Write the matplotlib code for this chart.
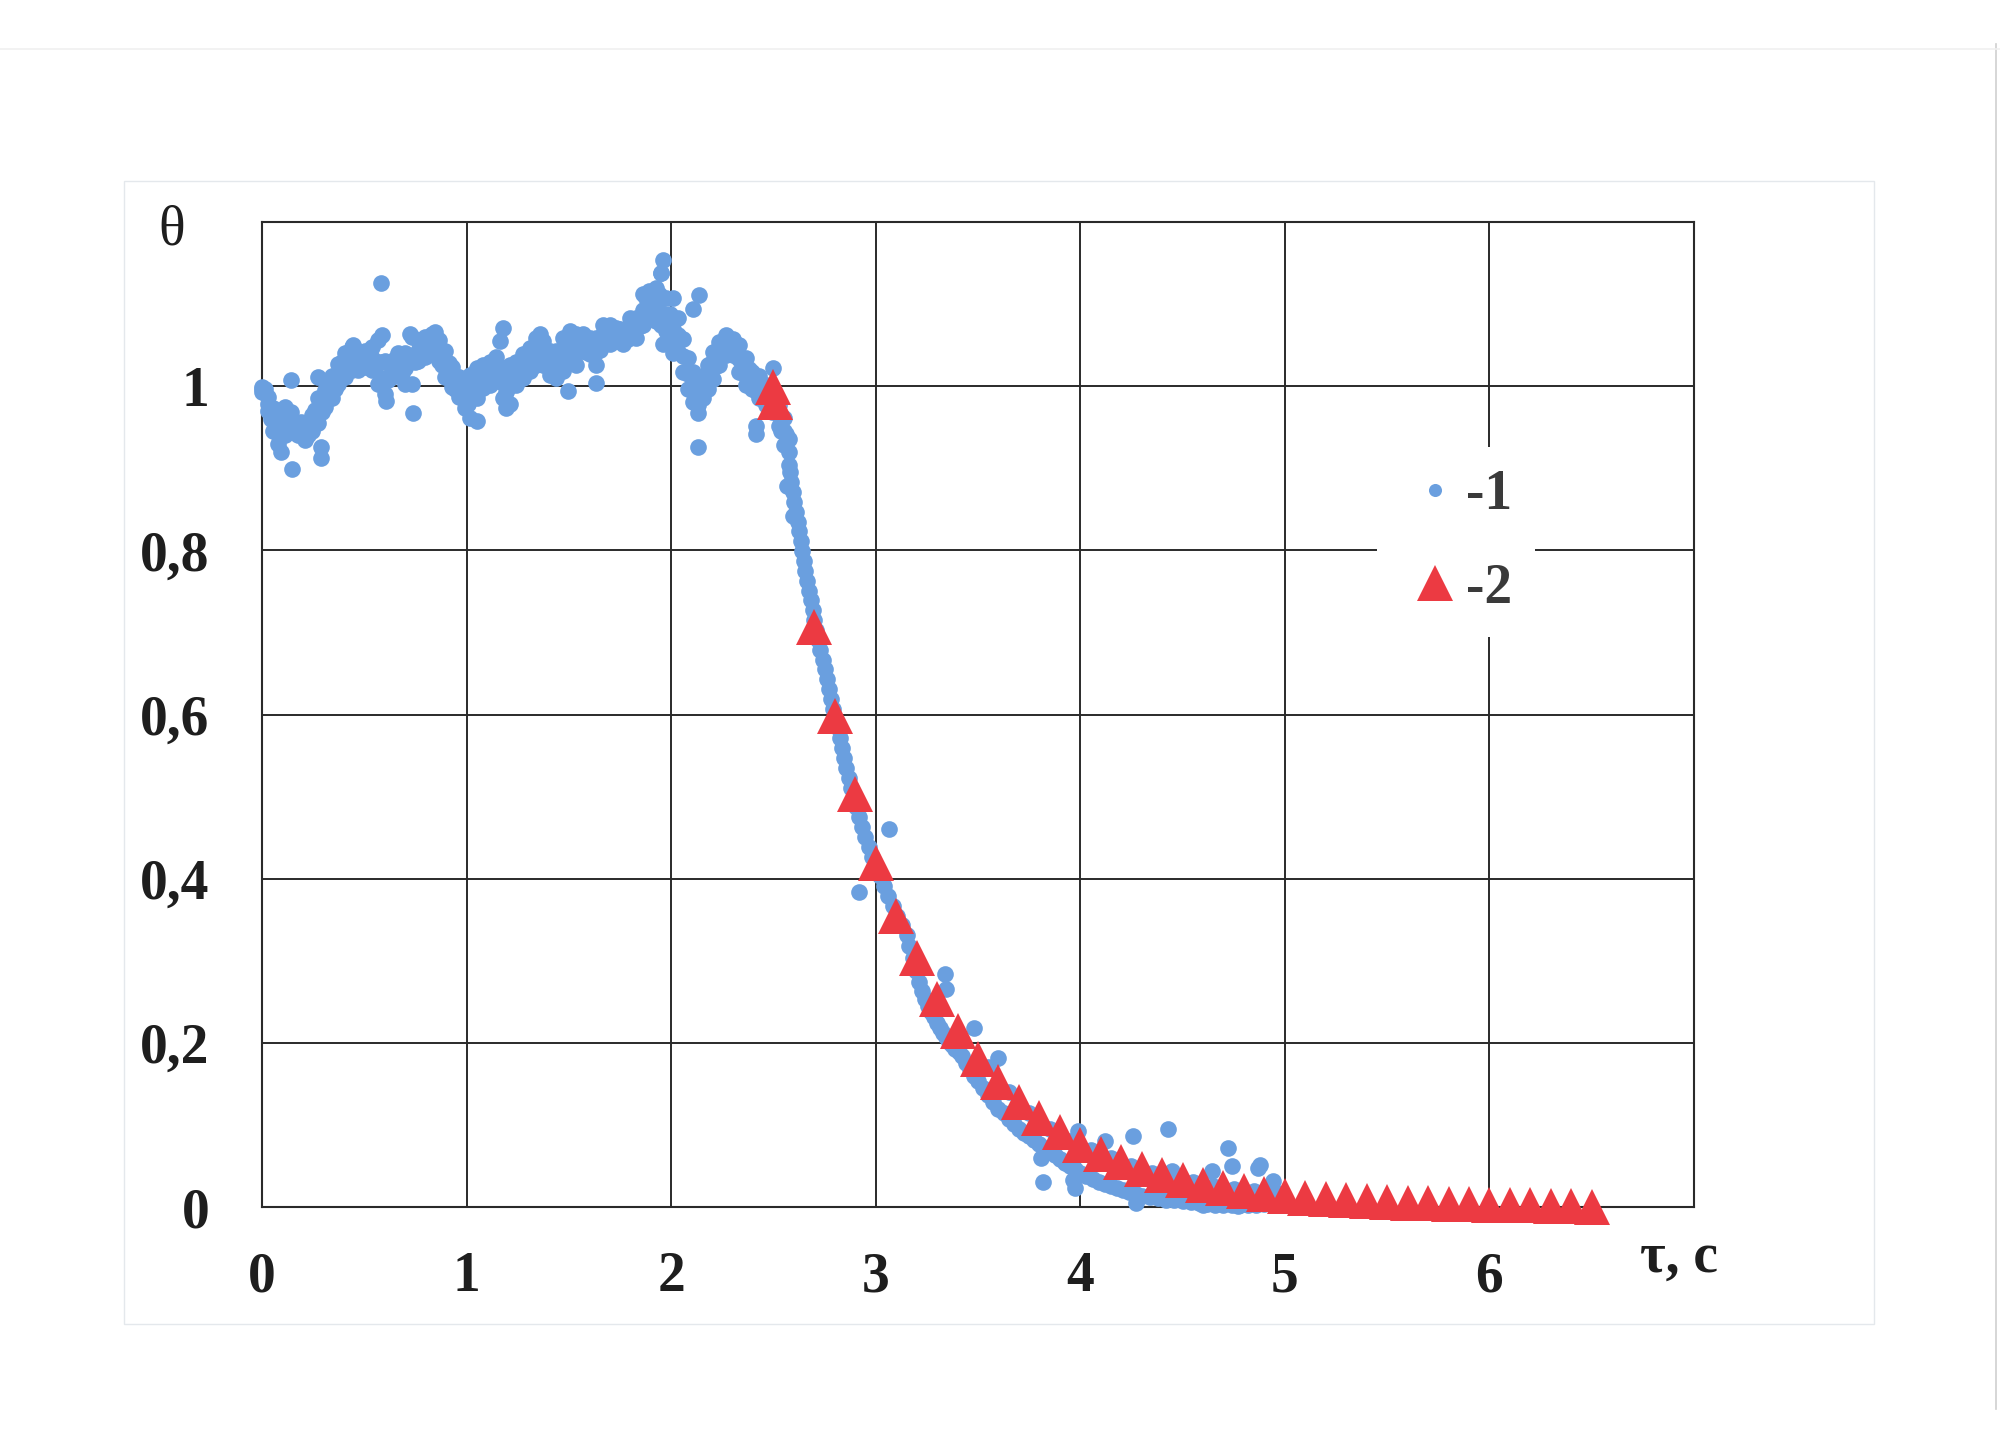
import matplotlib
matplotlib.use('Agg')
import matplotlib.pyplot as plt
from matplotlib.patches import Rectangle
from matplotlib.lines import Line2D

# --- series 1 (measured, blue dots): noisy plateau read as band edges ---
band_t = [0.000, 0.030, 0.054, 0.078, 0.111, 0.144, 0.176, 0.209, 0.242, 0.275,
          0.307, 0.340, 0.373, 0.405, 0.438, 0.470, 0.503, 0.536, 0.569, 0.601,
          0.634, 0.667, 0.699, 0.732, 0.765, 0.797, 0.830, 0.863, 0.895, 0.928,
          0.961, 0.993, 1.016, 1.049, 1.081, 1.114, 1.146, 1.179, 1.211, 1.244,
          1.276, 1.309, 1.341, 1.374, 1.407, 1.439, 1.472, 1.504, 1.537, 1.569,
          1.602, 1.634, 1.667, 1.699, 1.732, 1.764, 1.797, 1.829, 1.862, 1.894,
          1.927, 1.951, 1.976, 2.008, 2.032, 2.057, 2.081, 2.105, 2.130, 2.154,
          2.178, 2.203, 2.235, 2.267, 2.300, 2.332, 2.365, 2.397, 2.430, 2.462,
          2.494, 2.527, 2.551, 2.575]
band_hi = [0.999, 0.987, 0.974, 0.970, 0.975, 0.968, 0.955, 0.955, 0.965, 0.985,
           0.995, 1.012, 1.027, 1.040, 1.048, 1.043, 1.043, 1.048, 1.056, 1.031,
           1.031, 1.040, 1.040, 1.060, 1.056, 1.060, 1.064, 1.056, 1.043, 1.023,
           1.011, 1.003, 1.014, 1.022, 1.026, 1.030, 1.035, 1.022, 1.026, 1.030,
           1.039, 1.047, 1.059, 1.055, 1.043, 1.043, 1.059, 1.067, 1.063, 1.063,
           1.059, 1.059, 1.075, 1.075, 1.071, 1.067, 1.083, 1.083, 1.112, 1.116,
           1.120, 1.138, 1.108, 1.107, 1.083, 1.058, 1.034, 1.017, 1.009, 1.013,
           1.026, 1.042, 1.054, 1.062, 1.058, 1.050, 1.034, 1.017, 1.013, 1.001,
           0.990, 0.977, 0.961, 0.936]
band_mid = [0.996, 0.978, 0.960, 0.950, 0.957, 0.956, 0.948, 0.945, 0.955, 0.970,
            0.985, 0.998, 1.015, 1.026, 1.034, 1.031, 1.033, 1.034, 1.030, 1.010,
            1.021, 1.027, 1.022, 1.032, 1.043, 1.048, 1.052, 1.043, 1.027, 1.011,
            0.999, 0.988, 0.985, 1.004, 1.012, 1.016, 1.020, 1.004, 1.000, 1.016,
            1.024, 1.032, 1.042, 1.040, 1.028, 1.026, 1.038, 1.051, 1.045, 1.053,
            1.049, 1.042, 1.063, 1.063, 1.063, 1.059, 1.071, 1.071, 1.093, 1.103,
            1.099, 1.106, 1.087, 1.070, 1.062, 1.037, 1.015, 0.999, 0.993, 0.999,
            1.011, 1.025, 1.040, 1.050, 1.048, 1.033, 1.017, 1.007, 0.999, 0.989,
            0.980, 0.965, 0.945, 0.920]
band_lo = [0.993, 0.970, 0.946, 0.930, 0.940, 0.945, 0.940, 0.935, 0.945, 0.955,
           0.975, 0.985, 1.003, 1.011, 1.020, 1.020, 1.023, 1.020, 1.003, 0.990,
           1.011, 1.015, 1.003, 1.003, 1.031, 1.035, 1.040, 1.031, 1.011, 0.999,
           0.987, 0.974, 0.961, 0.986, 0.998, 1.002, 1.006, 0.986, 0.978, 1.002,
           1.010, 1.018, 1.026, 1.026, 1.014, 1.010, 1.018, 1.035, 1.026, 1.043,
           1.039, 1.026, 1.051, 1.051, 1.055, 1.051, 1.059, 1.059, 1.075, 1.091,
           1.079, 1.075, 1.067, 1.040, 1.042, 1.017, 0.997, 0.981, 0.977, 0.985,
           0.997, 1.009, 1.026, 1.038, 1.038, 1.017, 1.001, 0.997, 0.985, 0.977,
           0.969, 0.952, 0.928, 0.904]

# readings in between the ones above
half_t = [0.015, 0.042, 0.066, 0.095, 0.128, 0.160, 0.193, 0.226, 0.259, 0.291,
          0.324, 0.357, 0.389, 0.422, 0.454, 0.487, 0.520, 0.553, 0.585, 0.618,
          0.651, 0.683, 0.716, 0.749, 0.781, 0.814, 0.847, 0.879, 0.912, 0.945,
          0.977, 1.005, 1.033, 1.065, 1.098, 1.130, 1.163, 1.195, 1.228, 1.260,
          1.293, 1.325, 1.358, 1.391, 1.423, 1.456, 1.488, 1.521, 1.553, 1.586,
          1.618, 1.651, 1.683, 1.716, 1.748, 1.781, 1.813, 1.846, 1.878, 1.911,
          1.939, 1.964, 1.992, 2.020, 2.045, 2.069, 2.093, 2.118, 2.142, 2.166,
          2.191, 2.219, 2.251, 2.284, 2.316, 2.349, 2.381, 2.414, 2.446, 2.478,
          2.511, 2.539, 2.563]
half_theta = [0.996, 0.960, 0.964, 0.945, 0.966, 0.943, 0.956, 0.941, 0.971, 0.969,
              1.001, 0.997, 1.030, 1.021, 1.042, 1.023, 1.043, 1.023, 1.029, 1.007,
              1.033, 1.016, 1.036, 1.029, 1.055, 1.041, 1.057, 1.026, 1.028, 0.996,
              1.003, 0.978, 1.004, 0.999, 1.023, 1.009, 1.021, 0.993, 1.017, 1.011,
              1.037, 1.028, 1.050, 1.025, 1.036, 1.023, 1.054, 1.039, 1.058, 1.042,
              1.055, 1.044, 1.072, 1.054, 1.070, 1.056, 1.080, 1.073, 1.107, 1.092,
              1.112, 1.088, 1.088, 1.057, 1.059, 1.017, 1.016, 0.987, 1.005, 0.996,
              1.027, 1.024, 1.054, 1.040, 1.050, 1.016, 1.021, 0.994, 1.003, 0.976,
              0.982, 0.946, 0.942]

# series 1: fall and tail
fall_t = [2.580, 2.588, 2.595, 2.603, 2.611, 2.618, 2.626, 2.633, 2.641, 2.648,
          2.656, 2.663, 2.673, 2.682, 2.691, 2.700, 2.710, 2.719, 2.730, 2.740,
          2.751, 2.761, 2.772, 2.783, 2.793, 2.803, 2.814, 2.824, 2.834, 2.845,
          2.857, 2.869, 2.881, 2.893, 2.905, 2.920, 2.935, 2.950, 2.966, 2.981,
          2.999, 3.020, 3.041, 3.062, 3.083, 3.106, 3.130, 3.154, 3.165, 3.180,
          3.195, 3.210, 3.225, 3.240, 3.255, 3.270, 3.285, 3.300, 3.315, 3.330,
          3.345, 3.360, 3.375, 3.390, 3.405, 3.420, 3.440, 3.460, 3.480, 3.500,
          3.525, 3.550, 3.575, 3.600, 3.625, 3.650, 3.675, 3.700, 3.725, 3.750,
          3.775, 3.800, 3.825, 3.850, 3.875, 3.900, 3.925, 3.950, 3.975, 4.000,
          4.030, 4.060, 4.090, 4.120, 4.150, 4.180, 4.210, 4.240, 4.270, 4.300,
          4.340, 4.380, 4.420, 4.460, 4.500, 4.540, 4.580, 4.620, 4.660, 4.700,
          4.740, 4.780, 4.820, 4.860, 4.900, 4.940, 4.980]
fall_theta = [0.895, 0.883, 0.871, 0.859, 0.847, 0.835, 0.823, 0.811, 0.799, 0.787,
              0.775, 0.763, 0.751, 0.739, 0.727, 0.715, 0.703, 0.691, 0.679, 0.667,
              0.655, 0.643, 0.631, 0.619, 0.607, 0.595, 0.583, 0.571, 0.559, 0.547,
              0.535, 0.523, 0.511, 0.499, 0.487, 0.475, 0.463, 0.451, 0.439, 0.427,
              0.415, 0.403, 0.391, 0.379, 0.367, 0.355, 0.343, 0.331, 0.318, 0.303,
              0.288, 0.274, 0.263, 0.253, 0.245, 0.238, 0.231, 0.224, 0.218, 0.212,
              0.207, 0.201, 0.197, 0.193, 0.189, 0.184, 0.176, 0.168, 0.160, 0.153,
              0.145, 0.137, 0.128, 0.120, 0.114, 0.107, 0.101, 0.095, 0.090, 0.086,
              0.082, 0.077, 0.072, 0.067, 0.063, 0.058, 0.054, 0.050, 0.046, 0.042,
              0.038, 0.034, 0.031, 0.028, 0.025, 0.023, 0.021, 0.018, 0.016, 0.014,
              0.012, 0.011, 0.009, 0.008, 0.007, 0.006, 0.005, 0.004, 0.003, 0.003,
              0.002, 0.002, 0.003, 0.003, 0.004, 0.006, 0.010]
upper_t = [3.55, 3.65, 3.75, 3.85, 3.95, 4.05, 4.15, 4.25, 4.35, 4.45,
           4.55, 4.65, 4.75, 4.85, 4.95]
upper_theta = [0.170, 0.140, 0.115, 0.095, 0.080, 0.070, 0.060, 0.050, 0.042, 0.035,
               0.030, 0.026, 0.022, 0.020, 0.018]

# scattered single readings of series 1
stray_t = [0.144, 0.149, 0.095, 0.290, 0.290, 0.275, 0.580, 0.588, 0.446, 0.606,
           0.724, 0.737, 0.846, 1.049, 1.163, 1.179, 1.195, 1.358, 1.496, 1.634,
           1.960, 1.951, 1.960, 2.109, 2.138, 2.130, 2.130, 2.413, 2.413, 2.500,
           2.564, 2.597, 2.920, 3.067, 3.338, 3.343, 3.482, 3.596, 3.809, 3.817,
           3.964, 3.972, 3.990, 4.120, 4.258, 4.430, 4.270, 4.350, 4.446, 4.600,
           4.642, 4.724, 4.740, 4.770, 4.870, 4.880, 4.940]
stray_theta = [1.008, 0.899, 0.920, 0.926, 0.913, 1.011, 1.126, 1.062, 1.050, 0.982,
               1.064, 0.967, 1.066, 0.957, 1.055, 1.071, 0.974, 1.063, 0.994, 1.004,
               1.154, 1.138, 1.051, 1.094, 1.111, 0.967, 0.926, 0.952, 0.942, 1.022,
               0.879, 0.842, 0.384, 0.460, 0.284, 0.265, 0.218, 0.182, 0.060, 0.031,
               0.033, 0.023, 0.092, 0.080, 0.086, 0.095, 0.005, 0.013, 0.0435, 0.003,
               0.0435, 0.072, 0.050, 0.001, 0.048, 0.051, 0.032]

# --- series 2 (calculated, red triangles) ---
calc_t = [2.50, 2.51, 2.7, 2.8, 2.9, 3.0, 3.1, 3.2, 3.3, 3.4, 3.5, 3.6, 3.7, 3.8,
          3.9, 4.0, 4.1, 4.2, 4.3, 4.4, 4.5, 4.6, 4.7, 4.8, 4.9, 5.0, 5.1, 5.2,
          5.3, 5.4, 5.5, 5.6, 5.7, 5.8, 5.9, 6.0, 6.1, 6.2, 6.3, 6.4, 6.5]
calc_theta = [0.999, 0.981, 0.707, 0.598, 0.503, 0.419, 0.355, 0.303, 0.254, 0.215,
              0.180, 0.152, 0.128, 0.108, 0.091, 0.076, 0.065, 0.0545, 0.046, 0.039,
              0.0325, 0.027, 0.023, 0.0195, 0.016, 0.013, 0.011, 0.0094, 0.008, 0.007,
              0.006, 0.005, 0.0045, 0.004, 0.0035, 0.003, 0.0025, 0.002, 0.0015,
              0.001, 0.0005]

x_ticks = [0, 1, 2, 3, 4, 5, 6, 7]
x_labels = ['0', '1', '2', '3', '4', '5', '6', '']
y_ticks = [0, 0.2, 0.4, 0.6, 0.8, 1.0, 1.2]
y_labels = ['0', '0,2', '0,4', '0,6', '0,8', '1', '']

BLUE = '#6a9fdf'
RED = '#ec3a42'
INK = '#1e1e1e'
FONT = 'Liberation Serif'

fig = plt.figure(figsize=(20, 14.53), dpi=100)
fig.patch.set_facecolor('white')

# faint outline of the chart area (scanned page)
fig.add_artist(Rectangle((124 / 2000, 1 - 1324 / 1453), 1750 / 2000, 1143 / 1453,
                         transform=fig.transFigure, fill=False,
                         ec='#e4e8ec', lw=1))
fig.add_artist(Line2D([0.998, 0.998], [0.03, 0.97], transform=fig.transFigure,
                      color='#cfcfcf', lw=1.2))
fig.add_artist(Line2D([0.0, 1.0], [0.966, 0.966], transform=fig.transFigure,
                      color='#f0f0f0', lw=1.2))

ax = fig.add_axes([0.131, 0.1693, 0.716, 0.6779])

dot = dict(marker='o', ls='none', ms=12, mew=0, color=BLUE, zorder=3,
           clip_on=False)
ax.plot(band_t, band_mid, label='-1', **dot)
ax.plot(band_t, band_hi, **dot)
ax.plot(band_t, band_lo, **dot)
ax.plot(half_t, half_theta, **dot)
ax.plot(fall_t, fall_theta, **dot)
ax.plot(upper_t, upper_theta, **dot)
ax.plot(stray_t, stray_theta, **dot)

ax.plot(calc_t, calc_theta, marker='^', ls='none', ms=26, mew=0, color=RED,
        zorder=4, clip_on=False, label='-2')

ax.set_xlim(0, 7)
ax.set_ylim(0, 1.2)
ax.set_xticks(x_ticks)
ax.set_xticklabels(x_labels)
ax.set_yticks(y_ticks)
ax.set_yticklabels(y_labels)
ax.tick_params(axis='x', length=0, pad=32)
ax.tick_params(axis='y', length=0, pad=38)
for lab in ax.get_xticklabels() + ax.get_yticklabels():
    lab.set_fontfamily(FONT)
    lab.set_fontweight('bold')
    lab.set_fontsize(40)
    lab.set_color(INK)

ax.grid(True, color='#2a2a2a', lw=1.4)
ax.set_axisbelow(True)
for sp in ax.spines.values():
    sp.set_color('#2a2a2a')
    sp.set_linewidth(1.5)

# axis names sit in place of the last tick labels
ax.text(-0.063, 0.977, 'θ', transform=ax.transAxes, ha='center', va='baseline',
        fontsize=40, family=FONT, color=INK)
ax.text(0.9895, -0.0657, 'τ, с', transform=ax.transAxes, ha='center',
        va='baseline', fontsize=40, family=FONT, fontweight='bold', color=INK)

leg = ax.legend(loc='upper left', bbox_to_anchor=(0.7786, 0.7716),
                bbox_transform=ax.transAxes, borderaxespad=0, numpoints=1,
                frameon=True, fancybox=False, framealpha=1,
                borderpad=0.4, handlelength=1.3, handletextpad=-0.09,
                labelspacing=0.75,
                prop={'family': FONT, 'weight': 'bold', 'size': 40},
                labelcolor='#3a3a3a')
leg.get_frame().set_edgecolor('none')
leg.get_frame().set_facecolor('white')
leg.legend_handles[0].set_markersize(9.4)

plt.savefig('out.png', dpi=100)
